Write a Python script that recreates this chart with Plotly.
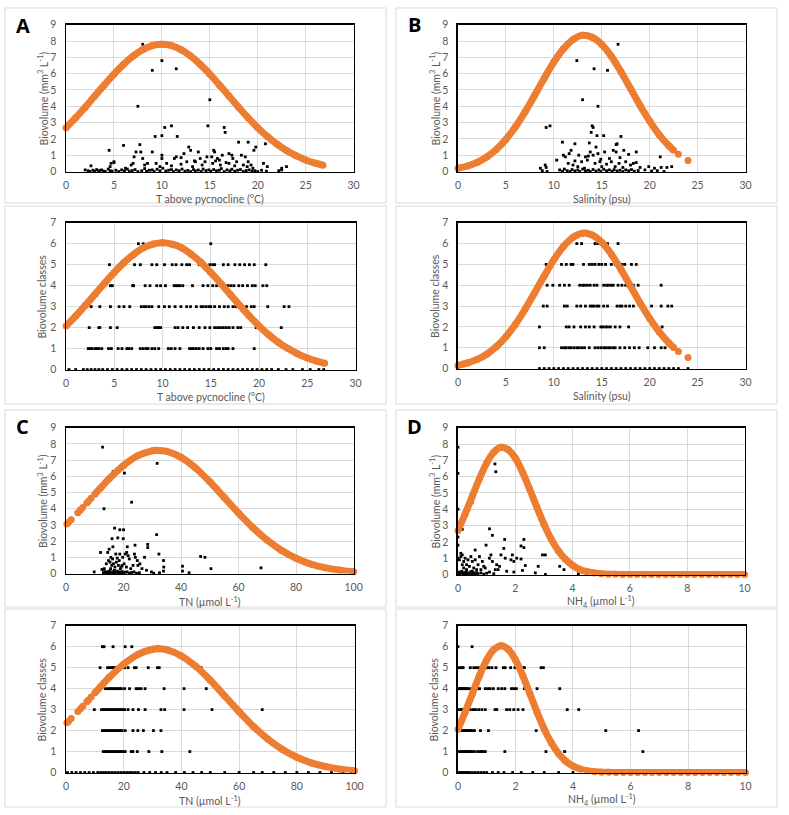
import plotly.graph_objects as go

W, H = 789, 815
ORANGE = "#ED7D31"
FONT = "Lato, 'Open Sans', sans-serif"
TXT = "#595959"

# ---------------- DATA ----------------
# Panel A : temperature above pycnocline
a_fit_x = [0, 1, 2, 3, 4, 5, 6, 7, 8, 9, 10, 11, 12, 13, 14, 15, 16, 17, 18, 19, 20, 21, 22, 23, 24, 25, 26, 26.8]
a_fit_bio = [2.69, 3.29, 3.94, 4.63, 5.31, 5.97, 6.57, 7.08, 7.47, 7.72, 7.80, 7.72, 7.47, 7.08, 6.57, 5.97,
             5.31, 4.63, 3.94, 3.29, 2.69, 2.15, 1.68, 1.29, 0.97, 0.71, 0.51, 0.39]
a_fit_cls = [2.08, 2.55, 3.06, 3.59, 4.12, 4.63, 5.10, 5.49, 5.80, 5.98, 6.05, 5.98, 5.80, 5.49, 5.10, 4.63,
             4.12, 3.59, 3.06, 2.55, 2.08, 1.66, 1.30, 1.00, 0.75, 0.55, 0.40, 0.30]
a_bio_pts = [
    (8.0, 7.8), (10.0, 6.8), (9.0, 6.2), (11.5, 6.3), (7.5, 4.0), (15.0, 4.4),
    (10.3, 2.7), (11.0, 2.8), (9.3, 2.15), (10.0, 2.2), (11.6, 2.15), (14.8, 2.8), (16.5, 2.7), (16.6, 2.4),
    (7.7, 1.65), (6.0, 1.6), (4.5, 1.3), (7.3, 1.2), (7.8, 1.2), (9.0, 1.2), (18.0, 1.8), (19.0, 1.8),
    (20.8, 1.7), (19.8, 1.5), (19.6, 1.3), (12.8, 1.5), (13.0, 1.3), (12.3, 1.1), (13.8, 1.2), (15.4, 1.3),
    (15.5, 1.2), (17.0, 1.1), (17.3, 1.0), (18.3, 1.0), (7.1, 0.9), (8.0, 0.8), (10.0, 1.0), (10.0, 0.8),
    (11.3, 0.8), (11.5, 0.9), (12.0, 0.85), (14.0, 0.8), (14.7, 0.9), (15.2, 0.9), (15.8, 0.8), (16.3, 1.0),
    (16.0, 0.7), (17.4, 0.8), (18.7, 0.9), (19.0, 0.6), (20.6, 0.5), (21.0, 0.3), (22.5, 0.2), (23.0, 0.3),
    (2.6, 0.35), (4.7, 0.5), (5.0, 0.6), (4.6, 0.3), (6.8, 0.4), (7.0, 0.5), (8.5, 0.5), (9.4, 0.5),
    (10.5, 0.5), (12.0, 0.45), (13.2, 0.3), (14.5, 0.6), (15.3, 0.5), (16.1, 0.4), (17.0, 0.5), (17.8, 0.6),
    (18.5, 0.4), (19.3, 0.4), (13.5, 0.6), (5.0, 0.55), (8.2, 0.4), (11.0, 0.35), (12.6, 0.6), (13.4, 0.65),
    (14.2, 0.4), (15.6, 0.65), (16.7, 0.55), (17.6, 0.35), (18.9, 0.3), (19.5, 0.2), (9.8, 0.3), (6.2, 0.2),
    (2.0, 0.1), (2.3, 0.05), (2.5, 0.0), (2.8, 0.08), (3.0, 0.02), (3.2, 0.12), (3.4, 0.0), (3.5, 0.06),
    (3.7, 0.1), (3.9, 0.03), (4.1, 0.0), (4.4, 0.15), (4.6, 0.05), (4.8, 0.02), (5.2, 0.08), (5.5, 0.0),
    (5.8, 0.1), (6.1, 0.04), (6.4, 0.15), (6.6, 0.02), (6.9, 0.06), (7.2, 0.12), (7.5, 0.0), (7.9, 0.05),
    (8.2, 0.18), (8.4, 0.02), (8.7, 0.08), (9.0, 0.1), (9.2, 0.0), (9.5, 0.14), (9.8, 0.05), (10.1, 0.2),
    (10.4, 0.03), (10.7, 0.08), (11.0, 0.12), (11.2, 0.0), (11.5, 0.1), (11.8, 0.05), (12.1, 0.15), (12.4, 0.02),
    (12.7, 0.07), (13.0, 0.0), (13.3, 0.12), (13.5, 0.04), (13.8, 0.09), (14.1, 0.0), (14.3, 0.15), (14.6, 0.06),
    (14.9, 0.1), (15.1, 0.02), (15.4, 0.12), (15.7, 0.05), (16.0, 0.08), (16.2, 0.18), (16.5, 0.0), (16.8, 0.1),
    (17.1, 0.04), (17.3, 0.14), (17.6, 0.02), (17.9, 0.08), (18.2, 0.12), (18.5, 0.0), (18.8, 0.06), (19.1, 0.1),
    (19.4, 0.03), (19.7, 0.05), (20.0, 0.0), (20.4, 0.08), (20.9, 0.02), (22.2, 0.05), (22.5, 0.1),
]
a_cls_x = [
    [0.3, 1.0, 1.8, 2.2, 2.6, 3.0, 3.4, 3.8, 4.3, 4.8, 5.3, 5.8, 6.3, 6.8, 7.3, 7.8, 8.3, 8.8, 9.3, 9.8, 10.3,
     10.8, 11.3, 11.8, 12.3, 12.8, 13.3, 13.8, 14.3, 14.8, 15.3, 15.8, 16.3, 16.8, 17.3, 17.8, 18.3, 18.8,
     19.3, 19.8, 20.3, 20.8, 21.3, 22.0, 22.8, 23.5, 24.5, 25.3, 26.2, 26.7],
    [2.3, 2.5, 2.7, 3.0, 3.2, 3.4, 3.7, 4.4, 4.7, 5.4, 5.8, 6.3, 6.5, 6.8, 7.7, 8.0, 8.3, 8.5, 8.9, 9.2, 9.6,
     10.6, 10.9, 11.3, 11.8, 12.8, 13.0, 13.2, 13.5, 13.8, 14.2, 14.7, 15.0, 15.6, 15.9, 16.3, 16.6, 16.8, 17.3, 19.5],
    [2.4, 3.4, 3.5, 4.6, 5.3, 9.2, 9.4, 9.6, 9.8, 11.3, 11.6, 12.1, 12.6, 13.2, 13.8, 14.4, 14.9, 15.4, 15.7,
     16.0, 16.3, 16.6, 16.9, 17.3, 17.8, 18.1, 19.7, 22.3],
    [2.6, 3.5, 4.6, 5.5, 6.0, 6.6, 7.8, 8.1, 8.3, 8.6, 8.9, 9.6, 10.2, 10.7, 11.3, 11.9, 12.5, 12.9, 13.5, 14.0,
     14.2, 14.5, 14.8, 15.0, 15.4, 15.9, 16.4, 16.8, 17.3, 17.6, 18.7, 19.2, 19.5, 20.9, 22.6, 23.1],
    [4.6, 4.8, 6.9, 7.0, 8.2, 8.7, 9.4, 9.8, 10.3, 11.2, 11.4, 11.6, 11.8, 12.1, 13.1, 14.2, 14.7, 15.2, 15.6,
     16.1, 16.5, 16.8, 17.1, 17.4, 17.9, 18.3, 18.8, 19.3, 19.6, 20.4, 20.8],
    [4.5, 7.1, 7.7, 8.9, 9.4, 10.2, 11.0, 11.4, 12.0, 12.5, 12.8, 13.8, 14.9, 15.2, 15.4, 16.3, 16.8, 17.5,
     18.0, 18.5, 19.0, 19.5, 20.7],
    [7.5, 8.0, 11.5, 15.0],
]

# Panel B : salinity
b_fit_x = [0, 1, 2, 3, 4, 5, 6, 7, 8, 9, 10, 11, 12, 13, 14, 15, 16, 17, 18, 19, 20, 21, 22, 22.5]
b_fit_bio = [0.20, 0.34, 0.56, 0.89, 1.35, 1.97, 2.74, 3.66, 4.67, 5.72, 6.71, 7.52, 8.09, 8.35, 8.23, 7.79,
             7.06, 6.12, 5.09, 4.05, 3.09, 2.25, 1.58, 1.30]
b_fit_cls = [0.15, 0.27, 0.44, 0.69, 1.05, 1.53, 2.13, 2.85, 3.64, 4.45, 5.22, 5.86, 6.30, 6.50, 6.41, 6.06,
             5.49, 4.76, 3.96, 3.15, 2.41, 1.76, 1.23, 1.01]
b_tail_x = [23, 24]
b_tail_bio = [1.06, 0.68]
b_tail_cls = [0.82, 0.53]
b_bio_pts = [
    (16.7, 7.8), (12.4, 6.8), (14.2, 6.3), (15.6, 6.2), (13.0, 4.4), (14.6, 4.0), (9.2, 2.7), (9.6, 2.8),
    (14.0, 2.8), (14.1, 2.7), (13.9, 2.4), (14.5, 2.2), (15.2, 2.2), (17.0, 2.15), (10.9, 1.8), (12.2, 1.7),
    (13.7, 1.75), (14.4, 1.5), (16.5, 1.65), (16.6, 1.7), (11.0, 1.0), (11.2, 0.9), (10.3, 0.7), (11.6, 1.1),
    (11.8, 1.3), (12.6, 1.0), (13.3, 0.9), (13.8, 1.2), (14.1, 1.0), (14.6, 1.1), (15.3, 1.2), (15.8, 0.8),
    (16.2, 1.3), (16.5, 1.2), (17.3, 1.3), (17.8, 1.05), (18.6, 1.2), (21.1, 0.9), (18.3, 0.5), (18.6, 0.55),
    (19.0, 0.25), (19.9, 0.3), (20.5, 0.2), (21.2, 0.25), (21.8, 0.25), (22.3, 0.3), (9.1, 0.4), (8.6, 0.2),
    (9.2, 0.25), (11.5, 0.5), (12.0, 0.4), (12.9, 0.6), (13.5, 0.7), (14.3, 0.5), (14.8, 0.6), (15.5, 0.45),
    (16.0, 0.6), (16.8, 0.5), (17.5, 0.6), (18.0, 0.4), (12.5, 0.3), (13.2, 0.2), (15.0, 0.3), (16.4, 0.3),
    (17.2, 0.25), (13.6, 0.95), (14.9, 0.75), (16.9, 0.85), (12.2, 0.65),
    (8.8, 0.05), (9.3, 0.0), (10.6, 0.1), (10.9, 0.02), (11.1, 0.15), (11.4, 0.05), (11.7, 0.0), (11.9, 0.12),
    (12.2, 0.04), (12.5, 0.1), (12.7, 0.0), (13.0, 0.15), (13.3, 0.05), (13.6, 0.08), (13.8, 0.0), (14.1, 0.12),
    (14.4, 0.03), (14.7, 0.1), (14.9, 0.0), (15.2, 0.14), (15.5, 0.05), (15.8, 0.1), (16.1, 0.02), (16.3, 0.12),
    (16.6, 0.04), (16.9, 0.08), (17.2, 0.0), (17.5, 0.1), (17.8, 0.05), (18.1, 0.12), (18.4, 0.02), (18.8, 0.06),
    (19.5, 0.1), (20.2, 0.03), (20.8, 0.05), (21.5, 0.0),
]
b_cls_x = [
    [8.5, 9.0, 9.5, 10.0, 10.5, 11.0, 11.5, 12.0, 12.5, 13.0, 13.5, 14.0, 14.5, 15.0, 15.5, 16.0, 16.5, 17.0,
     17.5, 18.0, 18.5, 19.0, 19.5, 20.0, 20.5, 21.0, 21.5, 22.0, 22.5, 23.0, 24.0],
    [8.5, 9.0, 10.8, 11.1, 11.3, 11.6, 11.8, 12.1, 12.4, 12.6, 12.9, 13.2, 13.7, 14.3, 14.6, 14.9, 15.2, 15.4,
     15.7, 15.9, 16.2, 16.4, 16.9, 17.4, 17.9, 18.4, 18.9, 19.8, 20.5, 21.2, 21.6],
    [8.5, 11.3, 11.6, 12.1, 12.8, 13.3, 13.7, 14.2, 14.9, 15.1, 15.4, 15.6, 15.9, 16.4, 16.9, 17.8, 20.5, 21.3],
    [8.9, 9.3, 11.1, 11.4, 12.4, 12.8, 13.3, 13.8, 14.0, 14.2, 14.5, 14.7, 15.2, 15.6, 16.6, 16.9, 17.1, 17.5,
     17.9, 18.3, 19.3, 20.2, 21.2, 21.9, 22.3],
    [9.3, 9.9, 10.6, 11.1, 11.6, 12.7, 13.0, 13.2, 13.5, 13.8, 14.2, 14.5, 15.2, 15.5, 15.7, 16.0, 16.2, 16.7,
     17.1, 17.5, 18.3, 18.8, 21.2],
    [9.2, 10.8, 11.3, 11.8, 12.0, 13.1, 13.7, 14.0, 14.3, 14.7, 15.0, 15.4, 16.0, 16.4, 17.1, 17.4, 18.1, 18.6],
    [12.4, 12.9, 14.3, 14.6, 15.6, 16.7],
]

# Panel C : total nitrogen
c_head_x = [0.3, 0.9, 1.8, 4.1, 5.0, 5.8, 7.2, 7.8, 8.7]
c_head_bio = [3.05, 3.16, 3.32, 3.75, 3.92, 4.08, 4.35, 4.46, 4.64]
c_head_cls = [2.37, 2.45, 2.58, 2.91, 3.04, 3.16, 3.37, 3.46, 3.60]
c_fit_x = [10, 12, 15, 20, 25, 30, 32, 35, 40, 45, 50, 55, 60, 65, 70, 75, 80, 85, 90, 95, 100]
c_fit_bio = [4.89, 5.28, 5.85, 6.67, 7.27, 7.57, 7.60, 7.54, 7.17, 6.52, 5.66, 4.70, 3.73, 2.83, 2.05, 1.42,
             0.94, 0.59, 0.36, 0.21, 0.11]
c_fit_cls = [3.80, 4.10, 4.54, 5.17, 5.64, 5.88, 5.90, 5.85, 5.56, 5.06, 4.40, 3.65, 2.90, 2.19, 1.59, 1.10,
             0.73, 0.46, 0.28, 0.16, 0.09]
c_bio_pts = [
    (12.7, 7.8), (31.7, 6.8), (16.4, 6.3), (20.3, 6.2), (22.8, 4.4), (13.2, 4.0), (16.9, 2.8), (18.7, 2.7),
    (20.0, 2.7), (19.9, 2.15), (18.0, 2.2), (16.0, 2.15), (24.0, 1.75), (28.4, 1.8), (28.4, 1.6), (31.5, 2.4),
    (32.3, 1.2), (12.0, 1.3), (16.3, 1.65), (21.3, 1.65), (15.0, 1.5), (14.5, 1.3), (17.3, 1.2), (15.6, 1.0),
    (16.2, 0.9), (17.8, 0.95), (18.7, 1.2), (19.7, 1.0), (20.6, 1.2), (21.1, 1.3), (21.6, 1.1), (23.8, 1.2),
    (24.1, 1.0), (24.8, 0.8), (27.3, 1.0), (22.0, 0.9), (25.0, 0.5), (25.7, 0.6), (26.4, 0.3), (33.9, 0.8),
    (34.0, 0.4), (40.5, 0.45), (46.8, 1.05), (48.3, 1.0), (50.4, 0.3), (67.8, 0.35), (40.5, 0.15), (42.8, 0.05),
    (33.9, 0.15), (28.0, 0.2), (29.7, 0.1), (9.8, 0.1), (12.5, 0.25), (13.3, 0.3), (14.0, 0.6), (14.8, 0.8),
    (15.3, 0.7), (15.9, 0.5), (16.5, 0.6), (17.0, 0.4), (17.5, 0.7), (18.2, 0.5), (18.9, 0.3), (19.5, 0.5),
    (20.2, 0.6), (21.0, 0.4), (22.5, 0.3), (23.3, 0.5), (15.5, 0.3), (16.8, 0.2), (18.5, 0.8), (19.2, 0.4),
    (13.0, 0.05), (13.4, 0.12), (13.8, 0.0), (14.2, 0.1), (14.6, 0.04), (15.0, 0.15), (15.4, 0.02), (15.8, 0.1),
    (16.2, 0.05), (16.6, 0.12), (17.0, 0.0), (17.4, 0.08), (17.8, 0.15), (18.2, 0.03), (18.6, 0.1), (19.0, 0.05),
    (19.5, 0.12), (20.0, 0.02), (20.5, 0.08), (21.2, 0.1), (22.0, 0.03), (22.8, 0.06), (23.6, 0.1), (24.5, 0.02),
    (25.5, 0.05), (30.5, 0.02), (32.5, 0.05),
]
c_cls_x = [
    [0.5, 2, 3.5, 5, 6.5, 8, 9.5, 11, 12, 13, 14, 15, 16, 17, 18, 19, 20, 21, 22, 23, 24, 25, 27, 29, 31, 33,
     35, 38, 41, 44, 47, 50, 55, 60, 65, 68, 72, 76, 80, 84, 88, 92, 96, 99],
    [12.9, 13.5, 14.0, 14.6, 15.2, 15.8, 16.3, 16.9, 17.5, 18.0, 18.6, 19.2, 19.7, 20.5, 22.6, 23.2, 24.7,
     28.7, 33.2, 42.9],
    [12.6, 13.2, 13.7, 14.3, 14.8, 15.4, 16.0, 16.6, 17.1, 17.7, 18.3, 18.8, 19.4, 20.5, 23.2, 24.9, 26.8,
     30.3, 32.9],
    [9.8, 12.3, 12.9, 13.5, 14.0, 14.6, 15.2, 15.8, 16.3, 16.9, 17.5, 18.0, 18.6, 19.2, 19.7, 20.3, 21.5,
     23.2, 25.1, 27.4, 32.9, 34.2, 40.9, 50.6, 68.0],
    [13.7, 14.6, 15.2, 15.8, 16.3, 16.9, 17.5, 18.0, 18.6, 19.2, 20.3, 22.0, 24.3, 25.1, 26.0, 27.4, 34.0,
     40.9, 48.6],
    [11.8, 14.4, 15.2, 15.8, 16.3, 16.9, 17.5, 18.6, 20.3, 21.5, 23.7, 24.3, 28.5, 31.7, 32.3, 46.8],
    [12.6, 13.2, 16.3, 20.5, 22.8, 31.7],
]

# Panel D : ammonium (curve read every 0.25 µmol/L; flat at zero beyond ~5.5)
d_fit_x = [0, 0.25, 0.5, 0.75, 1.0, 1.25, 1.5, 1.75, 2.0, 2.25, 2.5, 2.75, 3.0, 3.25, 3.5, 3.75, 4.0, 4.25,
           4.5, 4.75, 5.0, 5.25, 5.5, 5.75, 6.0, 6.25, 6.5, 6.75, 7.0, 7.25, 7.5, 7.75, 8.0, 8.25, 8.5, 8.75,
           9.0, 9.25, 9.5, 9.75, 10.0]
d_fit_bio = [2.70, 3.71, 4.80, 5.88, 6.83, 7.50, 7.80, 7.66, 7.14, 6.28, 5.24, 4.14, 3.09, 2.18, 1.46, 0.93,
             0.56, 0.31, 0.17, 0.09, 0.04, 0.02, 0.01, 0.0, 0.0, 0.0, 0.0, 0.0, 0.0, 0.0, 0.0, 0.0, 0.0, 0.0,
             0.0, 0.0, 0.0, 0.0, 0.0, 0.0, 0.0]
d_fit_cls = [2.07, 2.88, 3.76, 4.63, 5.37, 5.87, 6.05, 5.87, 5.37, 4.63, 3.76, 2.88, 2.07, 1.41, 0.90, 0.54,
             0.31, 0.17, 0.08, 0.04, 0.02, 0.01, 0.0, 0.0, 0.0, 0.0, 0.0, 0.0, 0.0, 0.0, 0.0, 0.0, 0.0, 0.0,
             0.0, 0.0, 0.0, 0.0, 0.0, 0.0, 0.0]
d_bio_pts = [
    (0.0, 7.8), (0.0, 6.2), (0.0, 4.0), (0.49, 4.4), (1.29, 6.78), (1.32, 6.3), (0.15, 2.77), (1.1, 2.8),
    (1.2, 2.4), (1.63, 2.15), (2.3, 2.15), (0.98, 1.8), (2.2, 1.75), (2.3, 1.65), (1.6, 1.6), (0.6, 1.5),
    (0.1, 1.3), (0.15, 1.2), (1.5, 1.2), (1.9, 1.2), (2.95, 1.2), (3.05, 1.2), (1.1, 1.0), (1.15, 1.2),
    (1.65, 1.0), (1.85, 0.9), (1.95, 0.8), (2.05, 1.0), (2.2, 0.95), (2.35, 0.55), (2.8, 0.5), (3.55, 0.5),
    (3.7, 0.3), (1.2, 0.8), (1.35, 0.6), (1.4, 0.3), (1.3, 0.3), (1.45, 0.5), (1.7, 0.2), (2.25, 0.25),
    (1.95, 0.15), (2.7, 0.1), (3.05, 0.0), (4.2, 0.05), (6.3, 0.1),
    (0.0, 2.3), (0.0, 1.8), (0.0, 1.0), (0.05, 0.9), (0.1, 1.1), (0.2, 0.8), (0.25, 1.0), (0.3, 0.6),
    (0.35, 0.9), (0.4, 0.5), (0.45, 1.1), (0.5, 0.8), (0.55, 0.4), (0.6, 0.9), (0.7, 0.6), (0.75, 1.1),
    (0.8, 0.3), (0.85, 0.8), (0.9, 0.5), (0.95, 0.4), (0.2, 0.4), (0.15, 0.6), (0.3, 0.3), (0.5, 0.2),
    (0.65, 0.3), (0.0, 0.05), (0.03, 0.15), (0.06, 0.0), (0.1, 0.1), (0.13, 0.2), (0.17, 0.05), (0.2, 0.12),
    (0.24, 0.0), (0.28, 0.15), (0.32, 0.05), (0.36, 0.1), (0.4, 0.02), (0.45, 0.18), (0.5, 0.05), (0.55, 0.1),
    (0.6, 0.0), (0.65, 0.12), (0.7, 0.05), (0.8, 0.1), (0.9, 0.02), (1.0, 0.08), (1.1, 0.15), (1.25, 0.05),
]
d_cls_x = [
    [0.0, 0.05, 0.1, 0.15, 0.2, 0.25, 0.3, 0.35, 0.4, 0.5, 0.6, 0.7, 0.8, 0.9, 1.0, 1.2, 1.4, 1.6, 1.9, 2.2,
     2.6, 3.0, 3.5, 4.0, 5.0, 6.3],
    [0.03, 0.11, 0.15, 0.21, 0.26, 0.30, 0.35, 0.39, 0.44, 0.49, 0.57, 0.68, 0.78, 0.82, 0.87, 0.95, 1.63,
     3.06, 3.71, 6.43],
    [0.03, 0.11, 0.16, 0.21, 0.26, 0.30, 0.35, 0.39, 0.44, 0.49, 0.57, 0.78, 1.06, 2.72, 5.14, 6.28],
    [0.0, 0.09, 0.13, 0.17, 0.22, 0.26, 0.30, 0.34, 0.38, 0.43, 0.53, 0.61, 0.72, 0.83, 0.95, 1.29, 1.35,
     1.69, 1.80, 1.94, 2.09, 2.26, 3.80, 4.20],
    [0.0, 0.05, 0.09, 0.14, 0.18, 0.22, 0.26, 0.30, 0.34, 0.43, 0.68, 0.75, 0.95, 1.04, 1.12, 1.23, 1.40,
     1.52, 1.63, 1.86, 1.94, 2.03, 2.31, 2.75, 3.54],
    [0.03, 0.11, 0.15, 0.18, 0.43, 0.55, 0.64, 0.72, 0.89, 1.0, 1.08, 1.18, 1.32, 1.58, 1.64, 1.83, 1.98,
     2.26, 2.31, 2.89, 2.97],
    [0.0, 0.49],
]

x_titles = ["T above pycnocline (°C)", "Salinity (psu)", "TN (µmol L<sup>-1</sup>)",
            "NH<sub>4</sub> (µmol L<sup>-1</sup>)"]
y_title_bio = "Biovolume (mm<sup>3</sup> L<sup>-1</sup>)"
y_title_cls = "Biovolume classes"
panel_letters = ["A", "B", "C", "D"]

# ---------------- LAYOUT GEOMETRY (page pixels) ----------------
areas = {
    1: (64, 19, 356, 168), 2: (64, 220, 358, 369),
    3: (462, 19, 754, 168), 4: (462, 220, 754, 368),
    5: (64, 428, 356, 576), 6: (64, 629, 357, 778),
    7: (462, 428, 753, 577), 8: (462, 629, 754, 778),
}
frames = [(2, 2, 389, 200), (2, 203, 389, 404), (399, 2, 786, 200), (399, 203, 786, 404),
          (2, 410, 389, 610), (2, 612, 389, 813), (399, 410, 786, 610), (399, 612, 786, 813)]


def fx(px):
    return px / W


def fy(py):
    return 1 - py / H


fig = go.Figure()


def sfx(i):
    return "" if i == 1 else str(i)


def setup_axes(i, xr, xd, yr, yd):
    l, t, r, b = areas[i]
    common = dict(showgrid=True, gridcolor="#d9d9d9", gridwidth=1, zeroline=False, showline=True,
                  mirror=True, linecolor="black", linewidth=1.5, ticks="",
                  tickfont=dict(family=FONT, size=10.5, color=TXT), fixedrange=True, tick0=0)
    fig.update_layout(**{
        "xaxis" + sfx(i): dict(domain=[fx(l), fx(r)], range=xr, dtick=xd, anchor="y" + sfx(i),
                               ticklabelstandoff=3, **common),
        "yaxis" + sfx(i): dict(domain=[fy(b), fy(t)], range=yr, dtick=yd, anchor="x" + sfx(i),
                               ticklabelstandoff=6, **common),
    })


def add_points(i, xs, ys):
    fig.add_trace(go.Scatter(x=xs, y=ys, mode="markers", xaxis="x" + sfx(i), yaxis="y" + sfx(i),
                             marker=dict(size=2.8, color="black", symbol="square"),
                             cliponaxis=False, showlegend=False, hoverinfo="skip"))


def add_curve(i, xs, ys, mode="lines+markers"):
    fig.add_trace(go.Scatter(x=xs, y=ys, mode=mode, xaxis="x" + sfx(i), yaxis="y" + sfx(i),
                             line=dict(color=ORANGE, width=7, shape="spline"),
                             marker=dict(size=7, color=ORANGE),
                             cliponaxis=False, showlegend=False, hoverinfo="skip"))


def add_bio(i, pts):
    add_points(i, [p[0] for p in pts], [p[1] for p in pts])


def add_cls(i, levels):
    xs, ys = [], []
    for lvl, vals in enumerate(levels):
        xs += vals
        ys += [lvl] * len(vals)
    add_points(i, xs, ys)


# A
setup_axes(1, [0, 30], 5, [0, 9], 1)
add_bio(1, a_bio_pts)
add_curve(1, a_fit_x, a_fit_bio)
setup_axes(2, [0, 30], 5, [0, 7], 1)
add_cls(2, a_cls_x)
add_curve(2, a_fit_x, a_fit_cls)
# B
setup_axes(3, [0, 30], 5, [0, 9], 1)
add_bio(3, b_bio_pts)
add_curve(3, b_fit_x, b_fit_bio)
add_curve(3, b_tail_x, b_tail_bio, mode="markers")
setup_axes(4, [0, 30], 5, [0, 7], 1)
add_cls(4, b_cls_x)
add_curve(4, b_fit_x, b_fit_cls)
add_curve(4, b_tail_x, b_tail_cls, mode="markers")
# C
setup_axes(5, [0, 100], 20, [0, 9], 1)
add_bio(5, c_bio_pts)
add_curve(5, c_head_x, c_head_bio, mode="markers")
add_curve(5, c_fit_x, c_fit_bio)
setup_axes(6, [0, 100], 20, [0, 7], 1)
add_cls(6, c_cls_x)
add_curve(6, c_head_x, c_head_cls, mode="markers")
add_curve(6, c_fit_x, c_fit_cls)
# D
setup_axes(7, [0, 10], 2, [0, 9], 1)
add_bio(7, d_bio_pts)
add_curve(7, d_fit_x, d_fit_bio)
setup_axes(8, [0, 10], 2, [0, 7], 1)
add_cls(8, d_cls_x)
add_curve(8, d_fit_x, d_fit_cls)

# chart-area frames
shapes = []
for (x0, y0, x1, y1) in frames:
    shapes.append(dict(type="rect", xref="paper", yref="paper", x0=fx(x0), x1=fx(x1),
                       y0=fy(y1), y1=fy(y0), line=dict(color="#d9d9d9", width=1),
                       fillcolor="rgba(0,0,0,0)", layer="below"))

annotations = []
for k in range(8):
    i = k + 1
    l, t, r, b = areas[i]
    panel = k // 2
    is_bio = (k % 2 == 0)
    annotations.append(dict(text=x_titles[panel], xref="paper", yref="paper", x=fx((l + r) / 2),
                            y=fy(b + 28), showarrow=False, xanchor="center", yanchor="middle",
                            font=dict(family=FONT, size=10.5, color=TXT)))
    annotations.append(dict(text=y_title_bio if is_bio else y_title_cls, xref="paper", yref="paper",
                            x=fx(l - 24), y=fy((t + b) / 2), textangle=-90, showarrow=False,
                            xanchor="center", yanchor="middle", font=dict(family=FONT, size=10.5, color=TXT)))
letter_pos = [(20, 20), (418, 19), (20, 427), (418, 427)]
for letter, (lx, ly) in zip(panel_letters, letter_pos):
    annotations.append(dict(text="<b>%s</b>" % letter, xref="paper", yref="paper", x=fx(lx), y=fy(ly),
                            showarrow=False, xanchor="center", yanchor="middle",
                            font=dict(family="'Open Sans', sans-serif", size=20, color="black")))

fig.update_layout(width=W, height=H, margin=dict(l=0, r=0, t=0, b=0), paper_bgcolor="white",
                  plot_bgcolor="white", shapes=shapes, annotations=annotations, showlegend=False,
                  hovermode=False)

# remove the browser's default body margin so the figure fills the window exactly
fig.write_html("out.html", config={"displayModeBar": False, "staticPlot": True},
               post_script="document.body.style.margin='0';document.body.style.overflow='hidden';")
